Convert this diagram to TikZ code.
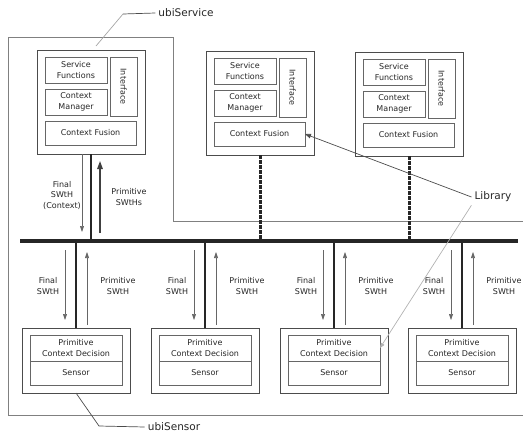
\documentclass[tikz,border=0pt]{standalone}
\usepackage{fontspec}
\setmainfont{DejaVu Sans}
\usetikzlibrary{calc,arrows.meta}
\tikzset{
  sbox/.style={draw=black!70, line width=0.9pt, inner sep=0pt, outer sep=0pt},
  ibox/.style={draw=black!60, line width=0.6pt, inner sep=1pt, outer sep=0pt, align=center,
    font=\fontsize{8}{10.5}\selectfont, text=black!85},
  lbl/.style={inner sep=1pt, align=center, font=\fontsize{8}{10.5}\selectfont, text=black!85},
  biglabel/.style={inner sep=3pt, font=\fontsize{10.5}{12}\selectfont, text=black!85},
  conn/.style={line width=2.6pt, draw=black!85},
  dconn/.style={line width=3pt, draw=black!85, dash pattern=on 3.5pt off 1.5pt},
  busline/.style={line width=4pt, draw=black!85},
  arr/.style={draw=black!60, line width=0.6pt, -{Triangle[length=6pt,width=4pt]}},
  thickarr/.style={draw=black!75, line width=1.4pt, -{Triangle[length=8pt,width=5.5pt]}},
  outline/.style={draw=black!50, line width=0.8pt},
  leader/.style={draw=black!70, line width=0.7pt},
  faintleader/.style={draw=black!30, line width=0.7pt, -{Triangle[length=5pt,width=4pt]}},
}
\newcommand\svcbox[3]{%
  \node[sbox, minimum width=108pt, minimum height=104pt, anchor=north west] (#1) at (#2,#3) {};
  \node[ibox, minimum width=62pt, minimum height=26pt, anchor=north west] (#1sf)
    at ([shift={(8,7)}]#1.north west) {Service\\Functions};
  \node[ibox, minimum width=62pt, minimum height=26pt, anchor=north west] (#1cm)
    at ([shift={(8,39)}]#1.north west) {Context\\Manager};
  \node[ibox, rotate=-90, minimum width=59pt, minimum height=27pt] (#1if)
    at ([shift={(86.5,36.5)}]#1.north west) {Interface};
  \node[ibox, minimum width=91pt, minimum height=24pt, anchor=north west] (#1cf)
    at ([shift={(8,71)}]#1.north west) {Context Fusion};
}
\newcommand\snsbox[2]{%
  \node[sbox, minimum width=108pt, minimum height=65pt, anchor=north] (#1) at (#2,328) {};
  \node[ibox, minimum width=92pt, minimum height=26pt, anchor=north] (#1p)
    at ([yshift=-7pt]#1.north) {Primitive\\Context Decision};
  \node[ibox, minimum width=92pt, minimum height=24pt, anchor=north] (#1s)
    at (#1p.south) {Sensor};
}
\begin{document}
\begin{tikzpicture}[x=1pt,y=-1pt]
\useasboundingbox (0,0) rectangle (523,434);
% ubiService / ubiSensor boundary
\coordinate (f1) at (523,221);
\coordinate (f2) at (173,221);
\coordinate (f3) at (173,37);
\coordinate (f4) at (8,37);
\coordinate (f5) at (8,415);
\coordinate (f6) at (523,415);
\draw[outline] (f1) -- (f2) -- (f3) -- (f4) -- (f5) -- (f6);

% bus
\coordinate (busL) at (20,241);
\coordinate (busR) at (518,241);
\draw[busline] (busL) -- (busR);

% service boxes
\svcbox{svA}{37}{50}
\svcbox{svB}{206}{51}
\svcbox{svC}{355}{52}

\draw[conn] (svA.south) -- (svA.south |- busL);
\draw[dconn] (svB.south) -- (svB.south |- busL);
\draw[dconn] (svC.south) -- (svC.south |- busL);
\draw[arr] ($(svA.south)+(-9,0)$) -- ($(svA.south |- busL)+(-9,-9)$);
\draw[thickarr] ($(svA.south |- busL)+(9,-8)$) -- ($(svA.south)+(9,7)$);
\node[lbl] (svAfl) at ($(svA.south)+(-29,41)$) {Final\\SWtH\\(Context)};
\node[lbl] (svApl) at ($(svA.south)+(38,43)$) {Primitive\\SWtHs};

% sensor boxes
\foreach \n/\cx in {sA/76, sB/205, sC/334, sD/462}{
  \snsbox{\n}{\cx}
  \draw[conn] (\n.north) -- (\n.north |- busL);
  \draw[arr] ($(\n.north |- busL)+(-11,9)$) -- ($(\n.north)+(-11,-8)$);
  \draw[arr] ($(\n.north)+(11,-3)$) -- ($(\n.north |- busL)+(11,11)$);
  \node[lbl] (\n fl) at ($(\n.north |- busL)+(-28,45)$) {Final\\SWtH};
  \node[lbl] (\n pl) at ($(\n.north |- busL)+(42,45)$) {Primitive\\SWtH};
}

% labels and leaders
\node[biglabel] (usv) at (186,13) {ubiService};
\coordinate (usvk) at (123,14);
\coordinate (usve) at (96,46);
\draw[leader] (usv.west) -- (usvk);
\draw[draw=black!35, line width=0.7pt] (usvk) -- (usve);

\node[biglabel] (usn) at (174,427) {ubiSensor};
\coordinate (usnk) at (99,426);
\draw[leader] (usn.west) -- (usnk) -- (sA.south);

\node[biglabel] (lib) at (493,197) {Library};
\draw[leader, -{Triangle[length=6pt,width=4.5pt]}] (lib.west) -- (svBcf.east);
\draw[faintleader] (lib.south west) -- (sCp.east);
\end{tikzpicture}
\end{document}
